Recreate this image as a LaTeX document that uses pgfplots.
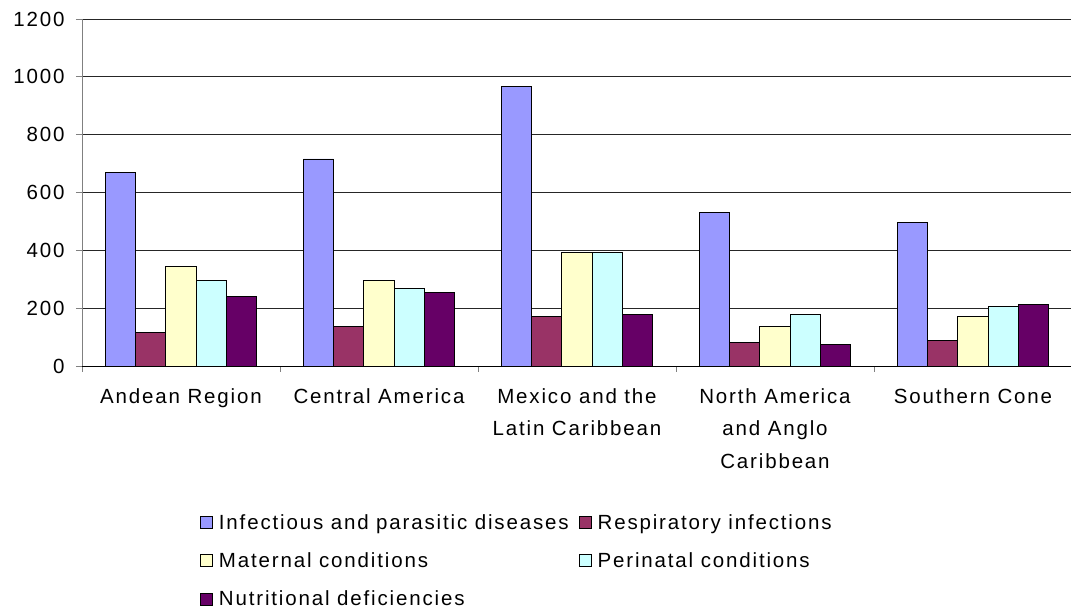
\documentclass[border=0pt]{standalone}
\usepackage{fontspec}
\setmainfont{Liberation Sans}[LetterSpace=9]
\usepackage{pgfplots}
\pgfplotsset{compat=1.18}

\definecolor{infect}{HTML}{9999FF}
\definecolor{resp}{HTML}{993366}
\definecolor{matern}{HTML}{FFFFCC}
\definecolor{perin}{HTML}{CCFFFF}
\definecolor{nutri}{HTML}{660066}

\begin{document}
\begin{tikzpicture}
\begin{axis}[
  scale only axis,
  width=990pt, height=347pt,
  font=\fontsize{20.5}{32.5}\selectfont,
  ymin=0, ymax=1200,
  ytick={0,200,...,1200},
  xmin=-0.5, xmax=4.5,
  axis lines=left,
  axis line style={-},
  x axis line style={black, line width=0.9pt},
  y axis line style={gray, line width=0.9pt},
  ymajorgrids,
  grid style={black!85, line width=0.8pt},
  ybar=0pt,
  bar width=0.153,
  xtick={-0.5,0.5,1.5,2.5,3.5},
  xticklabels={},
  extra x ticks={0,1,2,3,4},
  extra x tick labels={Andean Region, Central America, {Mexico and the\\Latin Caribbean}, {North America\\and Anglo\\Caribbean}, Southern Cone},
  extra x tick style={major tick length=0pt, grid=none,
    tick label style={align=center, yshift=-19pt}},
  tick align=outside,
  tick style={gray, line width=0.9pt},
  major tick length=6pt,
  /pgf/number format/assume math mode=true,
  /pgf/number format/1000 sep={},
  yticklabel style={xshift=-8pt},
  legend style={draw=none, at={(0.116,-0.415)}, anchor=north west,
    font=\fontsize{20.5}{24}\selectfont, row sep=18pt,
    /tikz/every odd column/.append style={column sep=4pt},
    /tikz/every even column/.append style={column sep=8pt}},
  legend columns=2,
  legend cell align=left,
  legend image code/.code={\draw[#1, draw=black, line width=0.9pt] (0pt,-6pt) rectangle (12pt,6pt);},
]
\addplot[fill=infect, draw=black, line width=0.9pt] coordinates {(0,669) (1,716) (2,966) (3,531) (4,496)};
\addlegendentry{Infectious and parasitic diseases}
\addplot[fill=resp, draw=black, line width=0.9pt]   coordinates {(0,115) (1,136) (2,171) (3,82) (4,88)};
\addlegendentry{Respiratory infections}
\addplot[fill=matern, draw=black, line width=0.9pt] coordinates {(0,344) (1,295) (2,392) (3,138) (4,171)};
\addlegendentry{Maternal conditions}
\addplot[fill=perin, draw=black, line width=0.9pt]  coordinates {(0,295) (1,268) (2,392) (3,179) (4,206)};
\addlegendentry{Perinatal conditions}
\addplot[fill=nutri, draw=black, line width=0.9pt]  coordinates {(0,242) (1,254) (2,179) (3,75) (4,213)};
\addlegendentry{Nutritional deficiencies}
\coordinate (O) at (rel axis cs:0,0);
\end{axis}
\pgfresetboundingbox
\path (O) ++(-82pt,-243pt) rectangle ++(1071pt,609pt);
\end{tikzpicture}
\end{document}
